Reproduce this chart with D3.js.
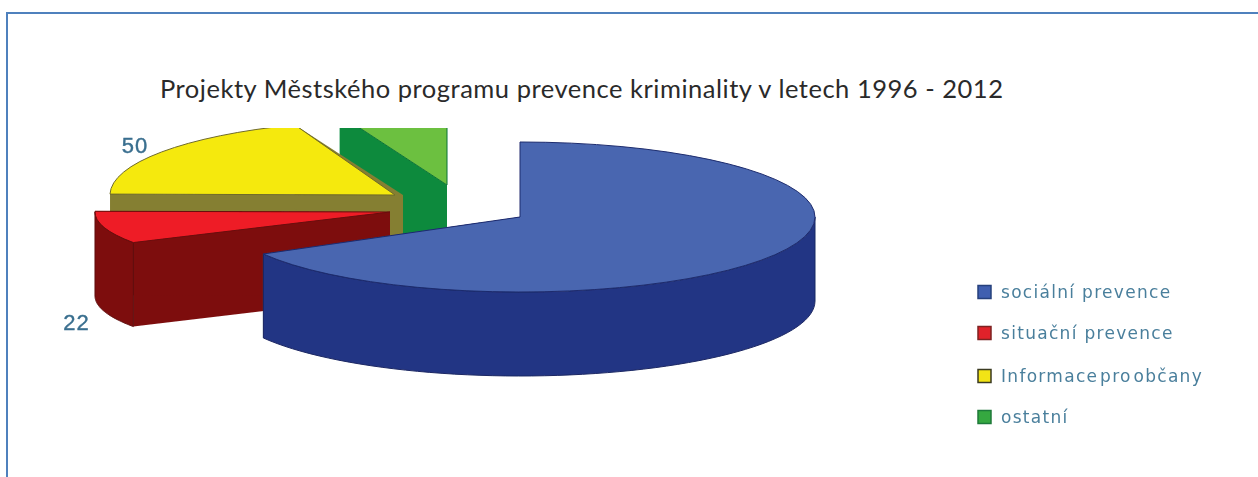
<!DOCTYPE html>
<html>
<head>
<meta charset="utf-8">
<script src="https://cdn.jsdelivr.net/npm/d3@7"></script>
<style>
  html, body { margin: 0; padding: 0; background: #fff; overflow: hidden; }
</style>
</head>
<body>
<div id="chart"></div>
<script>
// Data (only 22 and 50 are printed, the others are estimates)
const categories = ['sociální prevence', 'situační prevence', 'Informace pro občany', 'ostatní'];
const values = [175, 22, 50, 15];
const shownLabels = [null, '22', '50', null];
const title = 'Projekty Městského programu prevence kriminality v letech 1996 - 2012';

// Colours
const topColors = ['#4866b0', '#ee1c25', '#f5e90e', '#6cc040'];
const wallColors = ['#243584', '#7d1010', '#857f32', '#0d8a3e'];
const legendColors = ['#3f5fb0', '#e0202a', '#f2e415', '#35a83f'];
const legendEdges = ['#27407c', '#7d2020', '#3a3a20', '#1f7a3a'];

// Layout of the exploded pie
const width = 1258, height = 477;
const pieCenter = { x: 520, y: 217 };
const depth = 84;
const clipTop = 128;
// each slice is pulled away from the centre and squashed a little differently
const sliceDx = [0, -130, -125, -73];
const sliceDy = [0, -5, -22, -32];
const sliceRx = [295, 295, 285, 305];
const sliceRy = [75, 62, 75, 75];
const rimExtra = [0, 0, 8, 0];
const labelX = [0, 76.5, 135, 0];
const labelY = [0, 330, 153, 0];
const legendYs = [292, 333, 376, 417];
const legendWordSpacing = [0, 0, -5, 0];

const svg = d3.select('#chart')
  .append('svg')
  .attr('width', width)
  .attr('height', height)
  .style('display', 'block');

const defs = svg.append('defs');

defs.append('clipPath')
  .attr('id', 'pie-clip')
  .append('rect')
  .attr('x', 0)
  .attr('y', clipTop)
  .attr('width', width)
  .attr('height', height - clipTop);

// the source is a low resolution bitmap, so text and slices are slightly soft
defs.append('filter').attr('id', 'soft').append('feGaussianBlur').attr('stdDeviation', 0.5);
defs.append('filter').attr('id', 'softer').append('feGaussianBlur').attr('stdDeviation', 0.7);

// Frame: no right edge in the reference
svg.append('path')
  .attr('d', `M7,${height} V13 H${width}`)
  .attr('fill', 'none')
  .attr('stroke', '#4f81bd')
  .attr('stroke-width', 2);

// Title
svg.append('text')
  .attr('x', 160)
  .attr('y', 98)
  .attr('font-family', 'Lato, "Open Sans", sans-serif')
  .attr('font-size', 25.5)
  .attr('letter-spacing', 0.52)
  .attr('fill', '#2a2a2a')
  .text(title);

// Pie
const pie = d3.pie().sort(null).value(d => d);
const slices = pie(values).map((s, i) => ({
  ...s,
  i,
  cx: pieCenter.x + sliceDx[i],
  cy: pieCenter.y + sliceDy[i],
  rx: sliceRx[i],
  ry: sliceRy[i],
  rim: rimExtra[i]
}));

const point = (s, a) => [s.cx + s.rx * Math.sin(a), s.cy - s.ry * Math.cos(a)];
const line = d3.line();

// closes a strip of top points with the same points moved down by the depth
const extrude = pts => line([...pts, ...pts.slice().reverse().map(p => [p[0], p[1] + depth])]) + 'Z';

function radialWalls(s) {
  const apex = [s.cx + s.rim, s.cy];
  return [s.startAngle, s.endAngle].map(a => extrude([apex, point(s, a)]));
}

function outerWall(s) {
  // only the front half of the rim can be seen
  const a0 = Math.max(s.startAngle, Math.PI / 2);
  const a1 = Math.min(s.endAngle, Math.PI * 1.5);
  if (a1 <= a0) return null;
  return extrude(d3.range(0, 61).map(k => point(s, a0 + (a1 - a0) * k / 60)));
}

const arc = d3.arc().innerRadius(0).outerRadius(1);

const pieG = svg.append('g')
  .attr('clip-path', 'url(#pie-clip)')
  .append('g')
  .attr('filter', 'url(#soft)');

// painter's order: green, yellow, red, blue
const order = [3, 2, 1, 0];

order.forEach(i => {
  const s = slices[i];
  const g = pieG.append('g');

  g.selectAll('path.radial')
    .data(radialWalls(s))
    .join('path')
    .attr('class', 'radial')
    .attr('d', d => d)
    .attr('fill', wallColors[i]);

  const outer = outerWall(s);
  if (outer) {
    g.append('path')
      .attr('d', outer)
      .attr('fill', wallColors[i])
      .attr('stroke', d3.color(wallColors[i]).darker(0.8))
      .attr('stroke-width', 1);
  }

  g.append('path')
    .attr('d', arc({ startAngle: s.startAngle, endAngle: s.endAngle }))
    .attr('transform', `translate(${s.cx},${s.cy}) scale(${s.rx},${s.ry})`)
    .attr('fill', topColors[i])
    .attr('stroke', d3.color(wallColors[i]).darker(0.5))
    .attr('stroke-width', 1)
    .attr('vector-effect', 'non-scaling-stroke');
});

// Value labels
svg.append('g')
  .selectAll('text')
  .data(shownLabels.map((t, i) => ({ t, i })).filter(d => d.t))
  .join('text')
  .attr('x', d => labelX[d.i])
  .attr('y', d => labelY[d.i])
  .attr('text-anchor', 'middle')
  .attr('font-family', '"Liberation Sans", sans-serif')
  .attr('font-size', 22)
  .attr('letter-spacing', 1)
  .attr('fill', '#3a6f8f')
  .attr('stroke', '#3a6f8f')
  .attr('stroke-width', 0.4)
  .attr('filter', 'url(#soft)')
  .text(d => d.t);

// Legend
const legend = svg.append('g')
  .selectAll('g')
  .data(categories)
  .join('g')
  .attr('transform', (d, i) => `translate(978,${legendYs[i]})`);

legend.append('rect')
  .attr('x', 0)
  .attr('y', -6.5)
  .attr('width', 13)
  .attr('height', 13)
  .attr('fill', (d, i) => legendColors[i])
  .attr('stroke', (d, i) => legendEdges[i])
  .attr('stroke-width', 1.5)
  .attr('filter', 'url(#soft)');

legend.append('text')
  .attr('x', 23)
  .attr('y', 6)
  .attr('font-family', '"DejaVu Sans", sans-serif')
  .attr('font-size', 17)
  .attr('letter-spacing', 1.3)
  .attr('word-spacing', (d, i) => legendWordSpacing[i])
  .attr('fill', '#4a7f9c')
  .attr('filter', 'url(#softer)')
  .text(d => d);
</script>
</body>
</html>
